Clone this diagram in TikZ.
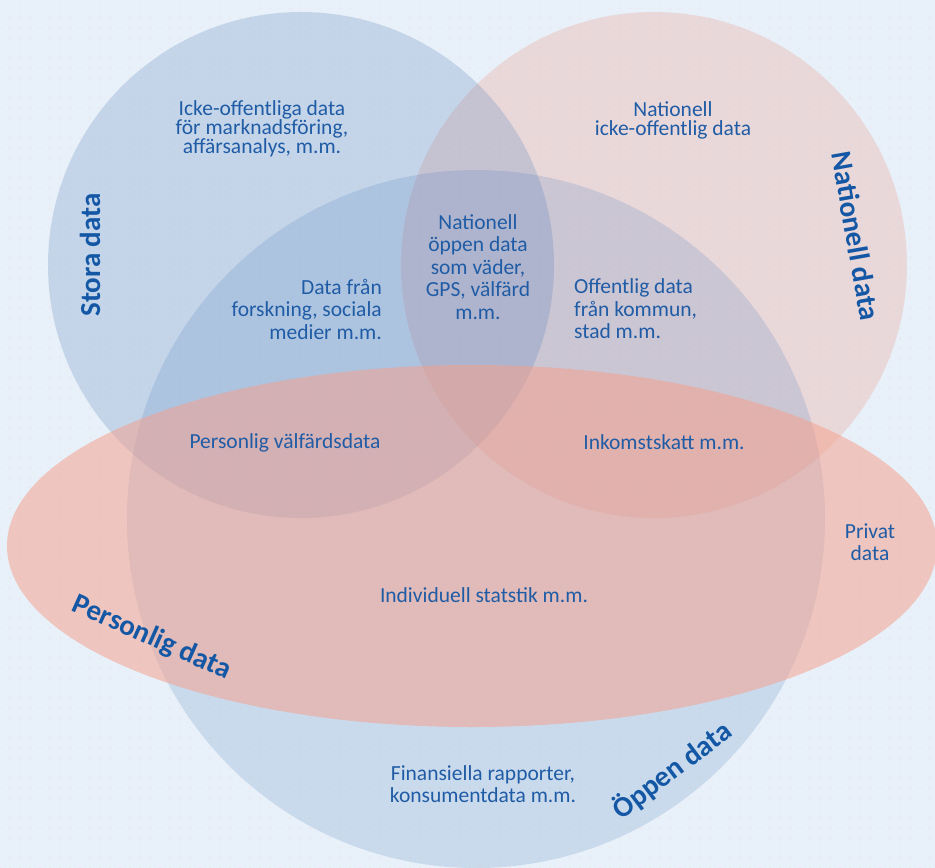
\documentclass[tikz,border=0pt]{standalone}
\usepackage{fontspec}
\setmainfont{Carlito}
\usetikzlibrary{patterns.meta}
\definecolor{bgblue}{RGB}{232,240,249}
\definecolor{dotorange}{RGB}{243,208,195}
\definecolor{circblue}{RGB}{70,120,185}
\definecolor{natpink}{RGB}{240,140,120}
\definecolor{perspink}{RGB}{245,160,140}
\definecolor{txtblue}{RGB}{32,92,165}
\definecolor{titleblue}{RGB}{20,88,165}
\begin{document}
\begin{tikzpicture}[x=1pt,y=-1pt,
  txt/.style={text=txtblue,font=\fontsize{21.5}{19}\selectfont,align=center,inner sep=0pt},
  wide/.style={font=\fontsize{21.5}{22.5}\selectfont},
  title/.style={text=titleblue,font=\fontsize{29}{30}\selectfont\bfseries,inner sep=0pt}]
\useasboundingbox (0,0) rectangle (935,868);
\fill[bgblue] (0,0) rectangle (935,868);
\fill[pattern={Dots[distance=10pt,radius=0.6pt]},pattern color=dotorange] (0,0) rectangle (935,868);
% the four sets
\coordinate (N) at (654,265);
\coordinate (S) at (301,265);
\coordinate (O) at (476,519);
\coordinate (P) at (472,546);
\fill[natpink,opacity=0.24] (N) circle (253);
\fill[circblue,opacity=0.22] (S) circle (253);
\fill[circblue,opacity=0.18] (O) circle (349);
\fill[perspink,opacity=0.53] (P) ellipse (465 and 181);
% titles
\node[title,rotate=90] (stora) at (90,255) {Stora data};
\node[title,rotate=-80] (nationell) at (856,236) {Nationell data};
\node[title,rotate=-24] (personlig) at (152,638) {Personlig data};
\node[title,rotate=37] (oppen) at (672,770) {Öppen data};
% region texts
\node[txt] (icke) at (262,129) {Icke-offentliga data\\för marknadsföring,\\affärsanalys, m.m.};
\node[txt] (naticke) at (673,120) {Nationell\\icke-offentlig data};
\node[txt,wide] (natoppen) at (478,267) {Nationell\\öppen data\\som väder,\\GPS, välfärd\\m.m.};
\node[txt,wide,align=right,anchor=east] (forskning) at (382,309) {Data från\\forskning, sociala\\medier m.m.};
\node[txt,wide,align=left,anchor=west] (kommun) at (574,309) {Offentlig data\\från kommun,\\stad m.m.};
\node[txt] (valfard) at (285,443) {Personlig välfärdsdata};
\node[txt] (skatt) at (664,442) {Inkomstskatt m.m.};
\node[txt,wide] (privat) at (870,542) {Privat\\data};
\node[txt] (statistik) at (484,595) {Individuell statstik m.m.};
\node[txt,wide] (finans) at (483,784) {Finansiella rapporter,\\konsumentdata m.m.};
\end{tikzpicture}
\end{document}
